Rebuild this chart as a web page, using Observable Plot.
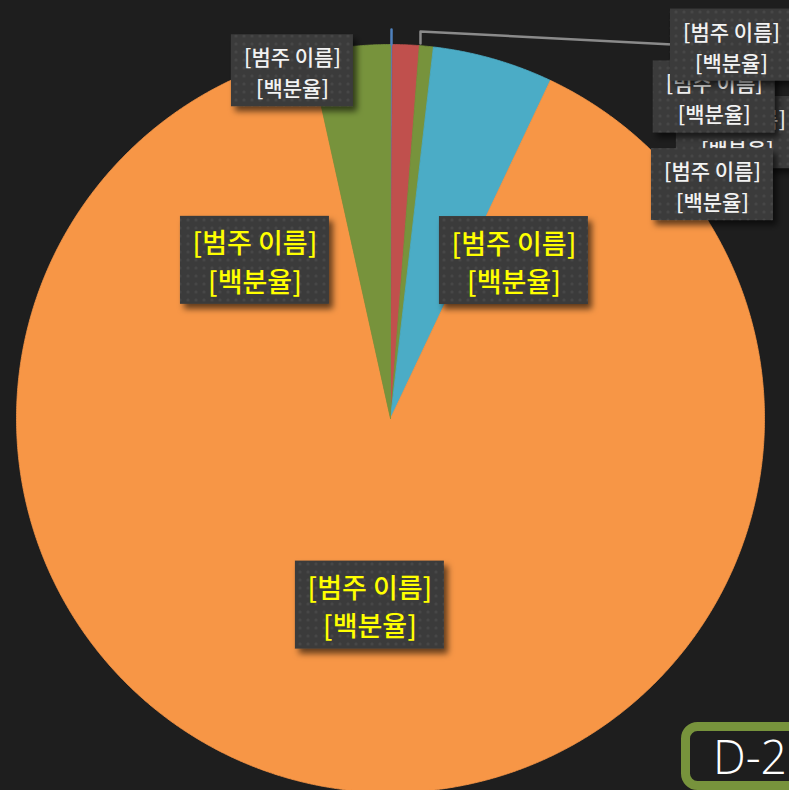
<!DOCTYPE html>
<html><head><meta charset="utf-8">
<script src="https://cdn.jsdelivr.net/npm/d3@7"></script>
<script src="https://cdn.jsdelivr.net/npm/@observablehq/plot@0.6"></script>
<style>
html,body{margin:0;padding:0;background:#1e1e1e;overflow:hidden}
#chart{position:relative;width:789px;height:790px}
</style></head><body><div id="chart"></div>
<script>
// ---- data ----
const categories = ["계열1", "계열2", "계열3", "계열4", "계열5", "계열6"];
const sliceValues = [0.08, 1.15, 0.6, 5.2, 89.5, 3.47];
const sliceColors = ["#4f81bd", "#c0504d", "#77933c", "#4bacc6", "#f79646", "#77933c"];
const labelLine1 = "[범주 이름]";
const labelLine2 = "[백분율]";
// data label placement (polar: angle in degrees clockwise from top, radius as fraction of pie radius), in drawing order
const labelAngles = [50.5, 54.0, 45.2, 42.4, 344.25, 319.4, 38.0, 186.3];
const labelRadii  = [1.202, 1.064, 1.220, 1.352, 0.966, 0.557, 0.536, 0.502];
const labelKinds  = ["small", "small", "small", "small", "small", "big", "big", "big"];
// leader lines (polar points)
const leaderGray = [[4.57, 1.006], [4.43, 1.038], [37.0, 1.252]];
const leaderBlue = [[0.15, 1.0], [0.15, 1.04]];
const badgeText = "D-2";

// ---- layout ----
const W = 789, H = 790, CX = 390, CY = 418, R = 374;
const polar = (a, r) => ({x: r * Math.sin(a * Math.PI / 180), y: r * Math.cos(a * Math.PI / 180)});

const arcs = d3.pie().sort(null).value(d => d)(sliceValues);
const slicePts = [];
arcs.forEach((s, i) => {
  slicePts.push({i, x: 0, y: 0});
  const n = Math.max(2, Math.ceil((s.endAngle - s.startAngle) / (Math.PI / 720)));
  for (let k = 0; k <= n; k++) {
    const a = s.startAngle + (s.endAngle - s.startAngle) * k / n;
    slicePts.push({i, x: Math.sin(a), y: Math.cos(a)});
  }
  slicePts.push({i, x: 0, y: 0});
});

const labels = labelAngles.map((a, j) => ({...polar(a, labelRadii[j]), kind: labelKinds[j], t: labelLine1 + "\n" + labelLine2}));
const kindStyle = {
  small: {w: 122, h: 72, fs: 21, lh: 1.48, color: "#f2f2f2"},
  big: {w: 149, h: 88, fs: 27, lh: 1.41, color: "#ffff00"}
};

const font = "'Noto Sans CJK KR', 'Noto Sans', sans-serif";

const chart = Plot.plot({
  width: W, height: H, margin: 0,
  x: {domain: [-CX / R, (W - CX) / R], axis: null},
  y: {domain: [-(H - CY) / R, CY / R], axis: null},
  color: {type: "identity"},
  style: {background: "#1e1e1e", fontFamily: font, overflow: "hidden"},
  marks: [
    Plot.line(slicePts, {x: "x", y: "y", z: "i", fill: d => sliceColors[d.i], stroke: d => sliceColors[d.i], strokeWidth: 0.8, curve: "linear"}),
    Plot.line(leaderGray.map(([a, r]) => polar(a, r)), {x: "x", y: "y", stroke: "#8a8a8a", strokeWidth: 2.5}),
    Plot.line(leaderBlue.map(([a, r]) => polar(a, r)), {x: "x", y: "y", stroke: "#4f81bd", strokeWidth: 2.5}),
    ...labels.map(lab => Plot.text([lab], {
      x: "x", y: "y", text: "t",
      fill: kindStyle[lab.kind].color,
      fontSize: kindStyle[lab.kind].fs,
      fontWeight: 500,
      lineHeight: kindStyle[lab.kind].lh,
      fontFamily: font
    }))
  ]
});

// ---- decorations: label boxes ----
const NS = "http://www.w3.org/2000/svg";
const svg = d3.select(chart);
const defs = svg.insert("defs", ":first-child");
const pat = defs.append("pattern").attr("id", "dots").attr("patternUnits", "userSpaceOnUse").attr("width", 8).attr("height", 8);
pat.append("rect").attr("width", 8).attr("height", 8).attr("fill", "#3b3b3b");
pat.append("circle").attr("cx", 4).attr("cy", 4).attr("r", 1.6).attr("fill", "#474747");
const filt = defs.append("filter").attr("id", "shadow").attr("x", "-20%").attr("y", "-20%").attr("width", "150%").attr("height", "150%");
filt.append("feDropShadow").attr("dx", 4).attr("dy", 5).attr("stdDeviation", 3).attr("flood-color", "#000").attr("flood-opacity", 0.6);

const sx = chart.scale("x").apply, sy = chart.scale("y").apply;
svg.selectAll('g[aria-label="text"]').each(function(_, j) {
  const lab = labels[j];
  if (!lab) return;
  const st = kindStyle[lab.kind];
  const rect = document.createElementNS(NS, "rect");
  rect.setAttribute("x", sx(lab.x) - st.w / 2);
  rect.setAttribute("y", sy(lab.y) - st.h / 2);
  rect.setAttribute("width", st.w);
  rect.setAttribute("height", st.h);
  rect.setAttribute("fill", "url(#dots)");
  rect.setAttribute("filter", "url(#shadow)");
  this.parentNode.insertBefore(rect, this);
});

// ---- badge ----
svg.append("rect").attr("x", 685.5).attr("y", 726.5).attr("width", 140).attr("height", 59)
  .attr("rx", 12).attr("fill", "#1e1e1e").attr("stroke", "#77933c").attr("stroke-width", 9);
svg.append("text").attr("x", 713).attr("y", 774).attr("fill", "#ffffff")
  .attr("text-anchor", "start")
  .attr("textLength", 74).attr("lengthAdjust", "spacingAndGlyphs")
  .attr("font-family", "'Open Sans', 'Noto Sans', sans-serif").attr("font-weight", 300).attr("font-size", 48)
  .text(badgeText);

document.getElementById("chart").appendChild(chart);
</script>
</body></html>
